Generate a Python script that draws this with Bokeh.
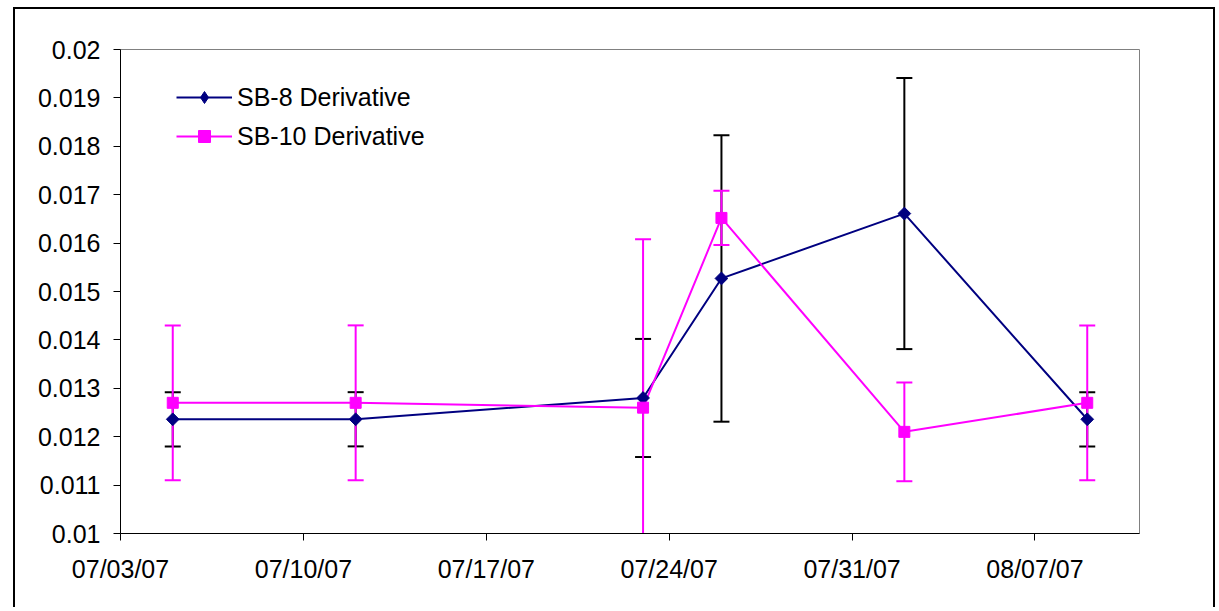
import numpy as np
import pandas as pd
from bokeh.plotting import figure
from bokeh.models import (Range1d, FixedTicker, DatetimeTickFormatter, CustomJSTickFormatter,
                          Legend, LegendItem, ColumnDataSource)
from bokeh.embed import file_html
from bokeh.resources import INLINE

# ---- data ----
dates = ["2007-07-05", "2007-07-12", "2007-07-23", "2007-07-26", "2007-08-02", "2007-08-09"]
sb8 = [0.01236, 0.01236, 0.01280, 0.01527, 0.01661, 0.01236]
sb8_err = [0.00056, 0.00056, 0.00122, 0.00296, 0.00280, 0.00056]
sb10 = [0.01270, 0.01270, 0.01260, 0.01652, 0.01210, 0.01270]
sb10_err = [0.00160, 0.00160, 0.00348, 0.00056, 0.00102, 0.00160]
series_names = ["SB-8 Derivative", "SB-10 Derivative"]
x_tick_dates = ["2007-07-03", "2007-07-10", "2007-07-17", "2007-07-24", "2007-07-31", "2007-08-07"]
x_start, x_end = "2007-07-03", "2007-08-11"
y_ticks = [0.010, 0.011, 0.012, 0.013, 0.014, 0.015, 0.016, 0.017, 0.018, 0.019, 0.020]
y_start, y_end = 0.01, 0.02

FONT = "Liberation Sans"
FSIZE = "25px"
NAVY = "#000080"
MAGENTA = "#FF00FF"

def to_ms(d):
    return (pd.Timestamp(d) - pd.Timestamp("1970-01-01")) // pd.Timedelta("1ms")

x = pd.to_datetime(dates)
src8 = ColumnDataSource(dict(x=x, y=sb8,
                             lo=np.array(sb8) - np.array(sb8_err),
                             hi=np.array(sb8) + np.array(sb8_err)))
src10 = ColumnDataSource(dict(x=x, y=sb10,
                              lo=np.array(sb10) - np.array(sb10_err),
                              hi=np.array(sb10) + np.array(sb10_err)))

# canvas placed at page (15, 9) inside a CSS border
OX, OY = 15, 9
W, H = 1202, 600
FL, FT, FR, FB = 120 - OX, 49 - OY, 1139 - OX, 533 - OY

p = figure(width=W, height=H, output_backend="svg", toolbar_location=None,
           x_axis_type="datetime",
           x_range=Range1d(pd.Timestamp(x_start), pd.Timestamp(x_end)),
           y_range=Range1d(y_start, y_end))
p.styles = {"margin-left": "13px", "margin-top": "7px",
            "border-left": "2px solid #000", "border-top": "2px solid #000",
            "border-right": "2px solid #000"}
p.min_border_left = FL
p.min_border_top = FT
p.min_border_right = W - FR
p.min_border_bottom = H - FB
p.background_fill_color = "white"
p.border_fill_color = "white"
p.outline_line_color = "#808080"
p.outline_line_width = 1
p.xgrid.visible = False
p.ygrid.visible = False

# axes
for ax in (p.xaxis[0], p.yaxis[0]):
    ax.axis_line_color = "black"
    ax.axis_line_width = 1
    ax.major_tick_in = 0
    ax.major_tick_out = 7
    ax.minor_tick_in = 0
    ax.minor_tick_out = 0
    ax.major_tick_line_color = "black"
    ax.major_label_text_font = FONT
    ax.major_label_text_font_size = FSIZE
    ax.major_label_text_color = "black"

p.xaxis.ticker = FixedTicker(ticks=[to_ms(d) for d in x_tick_dates])
fmt = "%m/%d/%y"
p.xaxis.formatter = DatetimeTickFormatter(milliseconds=fmt, seconds=fmt, minsec=fmt, minutes=fmt,
                                          hourmin=fmt, hours=fmt, days=fmt, months=fmt, years=fmt)
p.xaxis.major_label_standoff = 14
p.yaxis.ticker = FixedTicker(ticks=y_ticks)
p.yaxis.formatter = CustomJSTickFormatter(code="""
    let s = tick.toFixed(3);
    s = s.replace(/0+$/, '');
    return s;
""")
p.yaxis.major_label_standoff = 13

# error bars
p.segment(x0="x", y0="lo", x1="x", y1="hi", source=src8, line_color="black", line_width=2)
p.scatter("x", "hi", source=src8, marker="dash", size=16, line_color="black", line_width=2)
p.scatter("x", "lo", source=src8, marker="dash", size=16, line_color="black", line_width=2)

p.segment(x0="x", y0="lo", x1="x", y1="hi", source=src10, line_color=MAGENTA, line_width=2)
p.scatter("x", "hi", source=src10, marker="dash", size=16, line_color=MAGENTA, line_width=2)
p.scatter("x", "lo", source=src10, marker="dash", size=16, line_color=MAGENTA, line_width=2)

# series
l8 = p.line("x", "y", source=src8, line_color=NAVY, line_width=2)
l10 = p.line("x", "y", source=src10, line_color=MAGENTA, line_width=2)
# diamond glyph used for the legend (legend markers are drawn unrotated); hidden under the plot markers
leg_d = p.scatter("x", "y", source=src8, marker="diamond", size=8,
                  fill_color=NAVY, line_color=NAVY)
m8 = p.scatter("x", "y", source=src8, marker="square", angle=np.pi / 4, size=9,
               fill_color=NAVY, line_color=NAVY)
m10 = p.scatter("x", "y", source=src10, marker="square", size=11,
                fill_color=MAGENTA, line_color=MAGENTA)

legend = Legend(items=[LegendItem(label=series_names[0], renderers=[l8, leg_d]),
                       LegendItem(label=series_names[1], renderers=[l10, m10])],
                location=(56, (FB - FT) - 102))
legend.margin = 0
legend.padding = 0
legend.spacing = 9
legend.glyph_width = 56
legend.glyph_height = 30
legend.label_height = 30
legend.label_standoff = 5
legend.label_text_font = FONT
legend.label_text_font_size = FSIZE
legend.label_text_color = "black"
legend.label_text_baseline = "middle"
legend.background_fill_alpha = 0
legend.border_line_alpha = 0
p.add_layout(legend)

open("out.html", "w").write(file_html(p, INLINE))
